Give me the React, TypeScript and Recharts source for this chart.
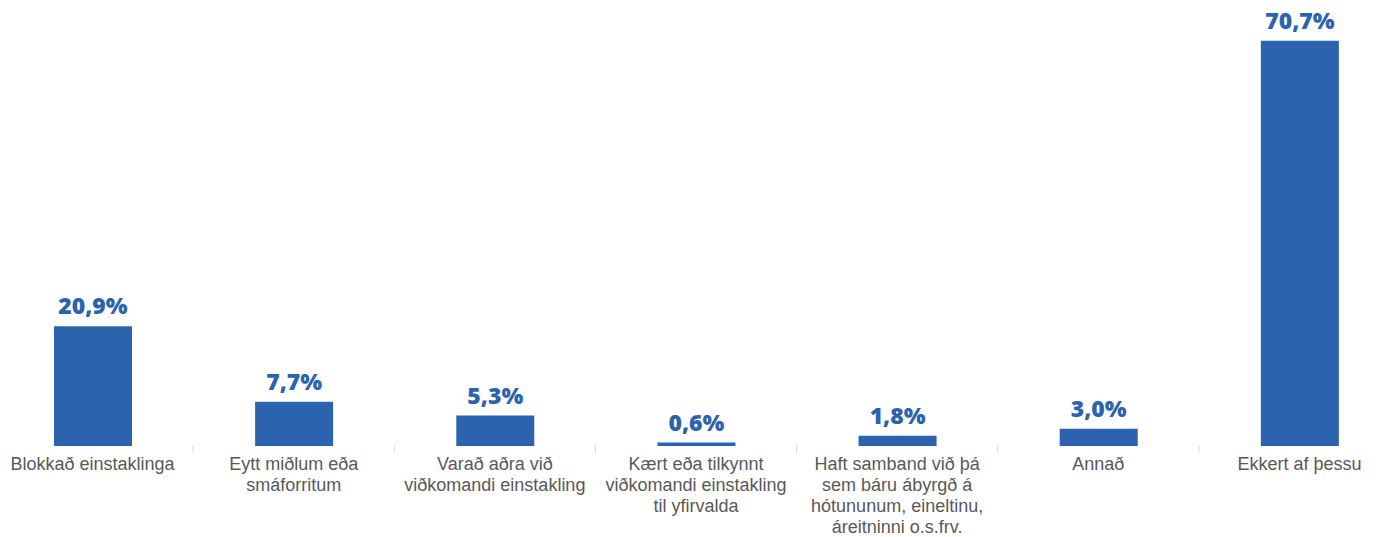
import { BarChart, Bar, XAxis, YAxis, LabelList } from 'recharts';

// svarmöguleikar (línuskil eins og á myndinni)
const categories = [
    'Blokkað einstaklinga',
    'Eytt miðlum eða\nsmáforritum',
    'Varað aðra við\nviðkomandi einstakling',
    'Kært eða tilkynnt\nviðkomandi einstakling\ntil yfirvalda',
    'Haft samband við þá\nsem báru ábyrgð á\nhótununum, eineltinu,\náreitninni o.s.frv.',
    'Annað',
    'Ekkert af þessu',
];

const values = [20.9, 7.7, 5.3, 0.6, 1.8, 3.0, 70.7];

const CHART_W = 1408;
const CHART_H = 537;
const BAND = CHART_W / categories.length;

const data = categories.map((name, i) => ({ name, value: values[i] }));

const formatPct = (v: number) => `${v.toFixed(1).replace('.', ',')}%`;

// eslint-disable-next-line @typescript-eslint/no-explicit-any
const CategoryTick = ({ x, y, payload, index }: any) => {
    const lines = String(payload.value).split('\n');
    return (
        <g>
            {/* litlu strikin á milli flokka */}
            {index > 0 && (
                <line
                    x1={x - BAND / 2}
                    x2={x - BAND / 2}
                    y1={y - 9}
                    y2={y - 1}
                    stroke="#d9d9d9"
                    strokeWidth={1}
                />
            )}
            <text
                x={x}
                y={y + 16}
                textAnchor="middle"
                fontFamily="'Liberation Sans', Arial, sans-serif"
                fontSize={18}
                fill="#595959"
            >
                {lines.map((line, i) => (
                    <tspan key={i} x={x} dy={i === 0 ? 0 : 21}>
                        {line}
                    </tspan>
                ))}
            </text>
        </g>
    );
};

export default function App() {
    return (
        <div style={{ position: 'absolute', left: -8, top: 0 }}>
            <BarChart
                width={CHART_W}
                height={CHART_H}
                data={data}
                margin={{ top: 16, right: 0, left: 0, bottom: 0 }}
            >
                <XAxis
                    dataKey="name"
                    axisLine={false}
                    tickLine={false}
                    interval={0}
                    height={91}
                    tick={<CategoryTick />}
                />
                <YAxis hide domain={[0, 75]} />
                <Bar dataKey="value" fill="#2B63AE" barSize={78} isAnimationActive={false}>
                    <LabelList
                        dataKey="value"
                        position="top"
                        offset={12}
                        formatter={(v: unknown) => formatPct(Number(v))}
                        fill="#2B63AE"
                        fontFamily="'Open Sans', sans-serif"
                        fontWeight={800}
                        fontSize={23}
                    />
                </Bar>
            </BarChart>
        </div>
    );
}
